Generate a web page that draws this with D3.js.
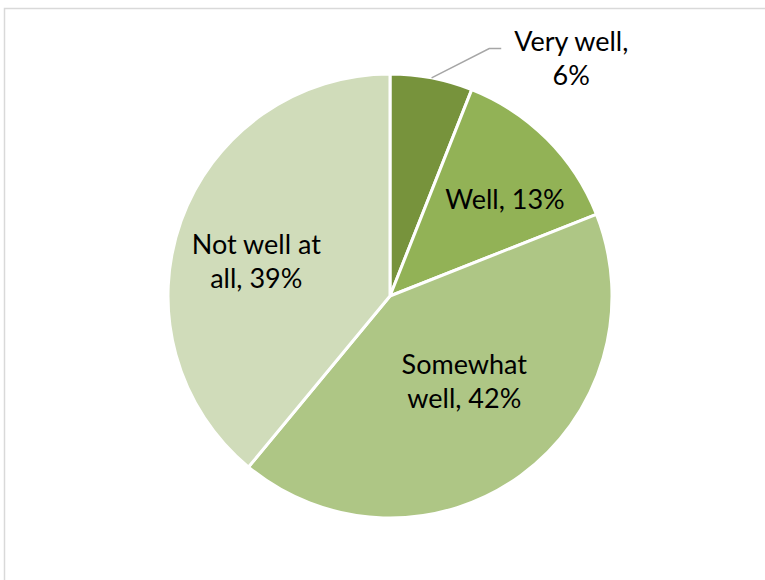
<!DOCTYPE html>
<html>
<head>
<meta charset="utf-8">
<script src="https://cdn.jsdelivr.net/npm/d3@7"></script>
<style>
  html, body { margin: 0; padding: 0; background: #fff; }
  svg { display: block; }
  text { font-family: Lato, "Open Sans", sans-serif; fill: #000; }
</style>
</head>
<body>
<svg id="chart" width="765" height="580"></svg>
<script>
// Survey answers, clockwise from 12 o'clock
const categories = ["Very well", "Well", "Somewhat well", "Not well at all"];
const values = [6, 13, 42, 39];
const colors = ["#77933c", "#92b256", "#aec685", "#d0dcba"];

const width = 765, height = 580;
const cx = 390, cy = 296, radius = 222;
const fontSize = 27, lineHeight = 34, wrapWidth = 145;

// Label nudges from the slice centroid (labelArc), in px
const labelNudge = [[155, -100], [16, 2], [-8, -28], [-2, 13]];

const svg = d3.select("#chart");

// Chart-area frame
svg.append("rect")
  .attr("x", 4.5).attr("y", 8.5)
  .attr("width", width).attr("height", height)
  .attr("fill", "none")
  .attr("stroke", "#d9d9d9")
  .attr("stroke-width", 1.5);

const pie = d3.pie().sort(null).value(d => d);
const arcs = pie(values);

const arc = d3.arc().innerRadius(0).outerRadius(radius);
const labelArc = d3.arc().innerRadius(140).outerRadius(140);

const g = svg.append("g").attr("transform", `translate(${cx},${cy})`);

g.selectAll("path.slice")
  .data(arcs)
  .join("path")
  .attr("class", "slice")
  .attr("d", arc)
  .attr("fill", (d, i) => colors[i])
  .attr("stroke", "#fff")
  .attr("stroke-width", 3)
  .attr("stroke-linejoin", "round");

// Greedy word wrap using measured widths
const measure = svg.append("text").attr("font-size", fontSize).attr("visibility", "hidden");
function wrap(str) {
  const words = str.split(" ");
  const lines = [];
  let cur = "";
  words.forEach(w => {
    const trial = cur ? cur + " " + w : w;
    measure.text(trial);
    if (cur && measure.node().getComputedTextLength() > wrapWidth) {
      lines.push(cur);
      cur = w;
    } else {
      cur = trial;
    }
  });
  if (cur) lines.push(cur);
  return lines;
}

const labelPos = arcs.map((d, i) => {
  const c = labelArc.centroid(d);
  return [c[0] + labelNudge[i][0], c[1] + labelNudge[i][1]];
});

// Leader line for the small outside label
{
  const d = arcs[0];
  const mid = (d.startAngle + d.endAngle) / 2;
  const p0 = d3.pointRadial(mid, radius);
  const lp = labelPos[0];
  const p2 = [lp[0] - 70, lp[1] - 10];
  const p1 = [p2[0] - 12, p2[1]];
  g.append("polyline")
    .attr("points", [p0, p1, p2].map(p => p.join(",")).join(" "))
    .attr("fill", "none")
    .attr("stroke", "#a6a6a6")
    .attr("stroke-width", 1.5);
}

arcs.forEach((d, i) => {
  const lines = wrap(`${categories[i]}, ${values[i]}%`);
  const [x, y] = labelPos[i];
  const t = g.append("text")
    .attr("text-anchor", "middle")
    .attr("font-size", fontSize);
  lines.forEach((ln, k) => {
    t.append("tspan")
      .attr("x", x)
      .attr("y", y + (k - (lines.length - 1) / 2) * lineHeight + 0.36 * fontSize)
      .text(ln);
  });
});
measure.remove();
</script>
</body>
</html>
